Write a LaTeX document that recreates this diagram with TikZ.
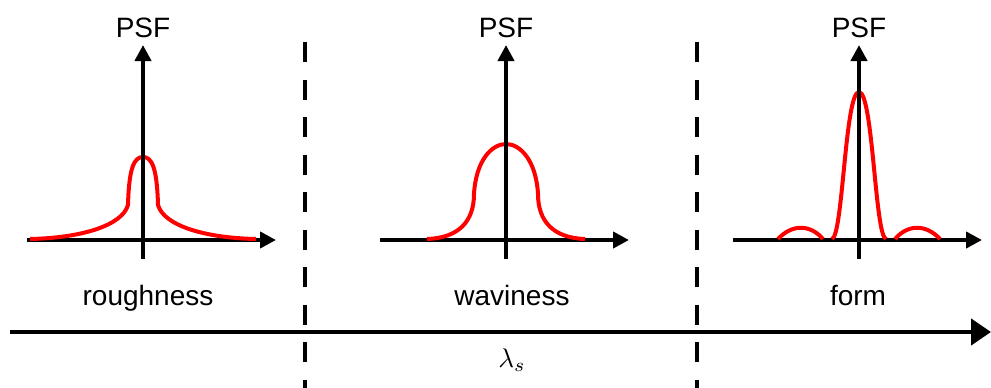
\documentclass[tikz,border=0pt]{standalone}
\usepackage{graphicx}
\usepackage{fontspec}
\setmainfont{Liberation Sans}
\usetikzlibrary{arrows.meta}
\begin{document}
\begin{tikzpicture}[x=1pt,y=-1pt,
  axis/.style={line width=4pt,-{Triangle[length=16pt,width=16pt]}},
  psf/.style={draw=red,line width=4pt},
  sep/.style={line width=4pt,dash pattern=on 20pt off 17.5pt},
  lbl/.style={anchor=base,inner sep=0pt,font=\fontsize{28}{30}\selectfont},
  main/.style={line width=4.5pt,-{Triangle[length=20pt,width=26pt]}}]
\useasboundingbox (0,0) rectangle (991,388);
% separators
\coordinate (s1t) at (305,42); \coordinate (s1b) at (305,388);
\coordinate (s2t) at (697,42); \coordinate (s2b) at (697,388);
\draw[sep] (s1t) -- (s1b);
\draw[sep] (s2t) -- (s2b);
% main axis
\coordinate (m0) at (10,332); \coordinate (m1) at (991,332);
\draw[main] (m0) -- (m1);
\node[anchor=base,inner sep=0pt] (lam) at (512,367) {\scalebox{2.7}{$\lambda_s$}};
% panel 1
\coordinate (h1a) at (27,240); \coordinate (h1b) at (276,240);
\coordinate (v1a) at (143,259); \coordinate (v1b) at (143,45);
\draw[axis] (h1a) -- (h1b);
\draw[psf] (30,239) .. controls (80,238) and (122,226) .. (128,205)
  .. controls (129,168) and (134,157) .. (143,157)
  .. controls (152,157) and (157,168) .. (158,205)
  .. controls (164,226) and (206,238) .. (256,239);
\draw[axis] (v1a) -- (v1b);
\node[lbl] (psf1) at (143,37) {PSF};
\node[lbl] (r) at (148,305) {roughness};
% panel 2
\coordinate (h2a) at (380,240); \coordinate (h2b) at (629,240);
\coordinate (v2a) at (506,259); \coordinate (v2b) at (506,45);
\draw[axis] (h2a) -- (h2b);
\draw[psf] (427,239) .. controls (458,238) and (474,222) .. (474,194)
  .. controls (476,160) and (492,144) .. (506,144)
  .. controls (520,144) and (536,160) .. (538,194)
  .. controls (538,222) and (554,238) .. (585,239);
\draw[axis] (v2a) -- (v2b);
\node[lbl] (psf2) at (506,37) {PSF};
\node[lbl] (w) at (512,305) {waviness};
% panel 3
\coordinate (h3a) at (733,240); \coordinate (h3b) at (982,240);
\coordinate (v3a) at (859,259); \coordinate (v3b) at (859,45);
\draw[axis] (h3a) -- (h3b);
\draw[psf] (778,239) .. controls (792,224) and (810,224) .. (823,239);
\draw[psf] (895,239) .. controls (908,224) and (926,224) .. (940,239);
\draw[psf] (832,239) .. controls (843,236) and (845,92) .. (859,92)
  .. controls (873,92) and (875,236) .. (886,239);
\draw[axis] (v3a) -- (v3b);
\node[lbl] (psf3) at (859,37) {PSF};
\node[lbl] (f) at (858,305) {form};
\end{tikzpicture}
\end{document}
